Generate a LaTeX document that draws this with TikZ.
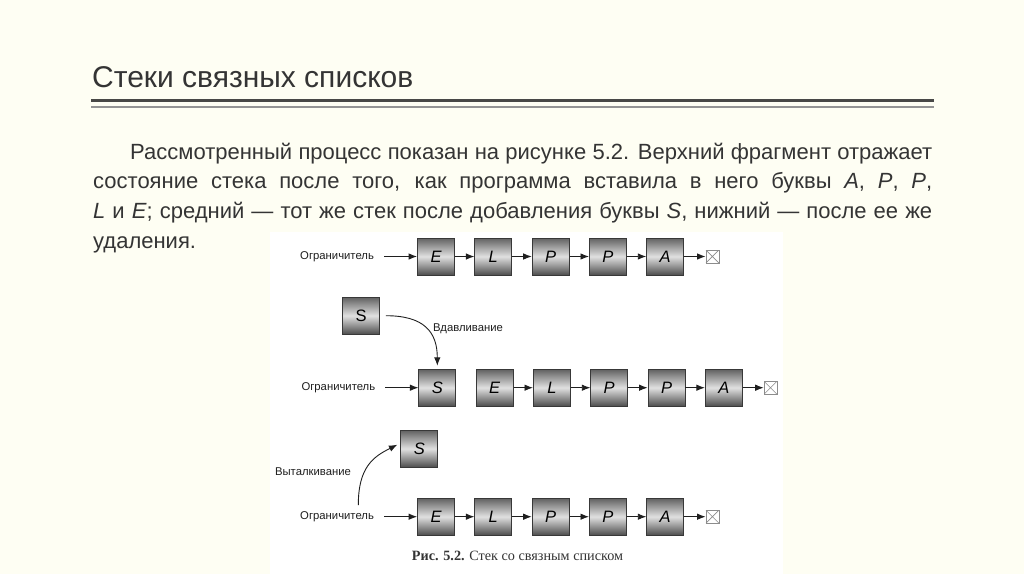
\documentclass[tikz,border=0pt]{standalone}
\usepackage{fontspec}
\setmainfont{Liberation Sans}
\newfontfamily\figfont{Liberation Sans}
\newfontfamily\capfont{Liberation Serif}
\usetikzlibrary{arrows.meta,positioning}
\definecolor{slidebg}{RGB}{254,254,243}
\definecolor{ink}{RGB}{52,52,52}
\definecolor{rulegray}{RGB}{72,72,70}

\begin{document}
\begin{tikzpicture}[
    x=1pt, y=-1pt,
    cell/.style={draw=black!78,line width=0.8pt,minimum size=37pt,inner sep=0pt,
        top color=black!62,bottom color=black!70,middle color=black!12,
        font=\figfont\itshape\fontsize{16.5}{16.5}\selectfont},
    upright/.style={font=\figfont\fontsize{16.5}{16.5}\selectfont},
    stopmark/.style={draw=black!45,line width=0.6pt,minimum size=13pt,inner sep=0pt,
        path picture={\draw[black!45,line width=0.6pt]
            (path picture bounding box.north west) -- (path picture bounding box.south east)
            (path picture bounding box.south west) -- (path picture bounding box.north east);}},
    tag/.style={font=\figfont\fontsize{11.3}{13}\selectfont,text=black!88,inner sep=2pt},
    link/.style={-{Latex[length=8.5pt,width=6.5pt]},line width=0.9pt,black!88},
    headline/.style={anchor=base west,inner sep=0pt,text=ink,
        font=\fontsize{30}{36}\selectfont},
    body/.style={anchor=base west,inner sep=0pt,text=ink,text width=839pt,
        align=justify,font=\fontsize{22}{29.7}\selectfont}
]
\useasboundingbox (0,0) rectangle (1024,574);
\fill[slidebg] (0,0) rectangle (1024,574);
\fill[white] (270,232) rectangle (783,574);

% slide heading with its double rule
\node[headline] (title) at (92,87) {Стеки связных списков};
\draw[rulegray,line width=3pt] (91,100) -- (934,100);
\draw[black!42,line width=1.3pt] (91,107) -- (934,107);

\node[body] (text) at (93,159)
    {\hspace*{37pt}Рассмотренный процесс показан на рисунке 5.2. Верхний фрагмент отражает\linebreak
     состояние стека после того, как программа вставила в него буквы \textit{A}, \textit{P}, \textit{P},\linebreak
     \textit{L} и \textit{E}; средний~--- тот же стек после добавления буквы \textit{S}, нижний~--- после ее же\linebreak
     удаления.};

% upper list
\node[cell] (e1) at (436,256.5) {E};
\node[cell,right=19.5pt of e1] (l1) {L};
\node[cell,right=19.5pt of l1] (p1) {P};
\node[cell,right=19.5pt of p1] (q1) {P};
\node[cell,right=19.5pt of q1] (a1) {A};
\node[stopmark,right=21.5pt of a1] (end1) {};
\node[tag,left=41pt of e1] (lim1) {Ограничитель};
\draw[link,shorten <=8pt] (lim1) -- (e1);
\draw[link] (e1) -- (l1);
\draw[link] (l1) -- (p1);
\draw[link] (p1) -- (q1);
\draw[link] (q1) -- (a1);
\draw[link] (a1) -- (end1);

% push of S
\node[cell,upright] (spush) at (361,315.7) {S};
\node[tag] (pushlbl) at (468,329) {Вдавливание};
\node[cell] (s2) at (437.3,387.7) {S};
\node[cell,right=19.5pt of s2] (e2) {E};
\node[cell,right=19.5pt of e2] (l2) {L};
\node[cell,right=19.5pt of l2] (p2) {P};
\node[cell,right=19.5pt of p2] (q2) {P};
\node[cell,right=19.5pt of q2] (a2) {A};
\node[stopmark,right=21pt of a2] (end2) {};
\node[tag,left=41pt of s2] (lim2) {Ограничитель};
\draw[link] ([xshift=6pt]spush.east) .. controls +(38,0) and +(0,-34) .. ([yshift=3pt]s2.north);
\draw[link,shorten <=8pt] (lim2) -- (s2);
\draw[link] (e2) -- (l2);
\draw[link] (l2) -- (p2);
\draw[link] (p2) -- (q2);
\draw[link] (q2) -- (a2);
\draw[link] (a2) -- (end2);

% pop of S
\node[cell] (spop) at (419.3,448.7) {S};
\node[tag] (poplbl) at (313,471.7) {Выталкивание};
\coordinate (popstart) at (358.3,505);
\node[cell] (e3) at (436,516.7) {E};
\node[cell,right=19.5pt of e3] (l3) {L};
\node[cell,right=19.5pt of l3] (p3) {P};
\node[cell,right=19.5pt of p3] (q3) {P};
\node[cell,right=19.5pt of q3] (a3) {A};
\node[stopmark,right=21.5pt of a3] (end3) {};
\node[tag,left=41pt of e3] (lim3) {Ограничитель};
\draw[link] (popstart) .. controls +(0,-38) and +(-24,12) .. ([xshift=-3pt,yshift=4pt]spop.west);
\draw[link,shorten <=8pt] (lim3) -- (e3);
\draw[link] (e3) -- (l3);
\draw[link] (l3) -- (p3);
\draw[link] (p3) -- (q3);
\draw[link] (q3) -- (a3);
\draw[link] (a3) -- (end3);

\node[font=\capfont\fontsize{14.2}{17}\selectfont,text=ink] (cap) at (517.5,556)
    {\textbf{Рис. 5.2.} Стек со связным списком};
\end{tikzpicture}
\end{document}
